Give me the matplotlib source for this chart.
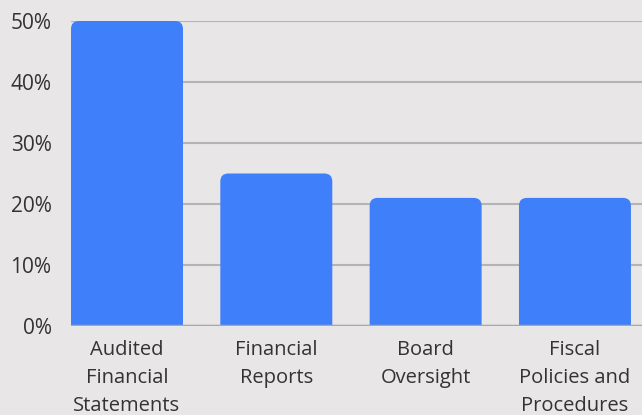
import matplotlib
matplotlib.use("Agg")
import matplotlib.pyplot as plt
from matplotlib.path import Path
from matplotlib.patches import PathPatch

categories = ["Audited\nFinancial\nStatements", "Financial\nReports", "Board\nOversight", "Fiscal\nPolicies and\nProcedures"]
values = [50, 25, 21, 21]

bg = '#e8e6e6'
blue = '#407ffa'

plt.rcParams['font.family'] = ['Open Sans', 'DejaVu Sans']

fig = plt.figure(figsize=(6.42, 4.15), dpi=100, facecolor=bg)
ax = fig.add_axes([71/642, 89/415, 571/642, 305/415], facecolor=bg)

w = 0.75
ax.set_xlim(-0.375, 3.449)
ax.set_ylim(0, 50)

# bars with rounded top corners (radius ~8px)
px_x = 571 / (3.449 + 0.375)
px_y = 305 / 50.0
rx = 8 / px_x
ry = 8 / px_y
for xi, v in enumerate(values):
    x0, x1 = xi - w/2, xi + w/2
    verts = [(x0, 0), (x0, v - ry), (x0, v), (x0 + rx, v), (x1 - rx, v),
             (x1, v), (x1, v - ry), (x1, 0), (x0, 0)]
    codes = [Path.MOVETO, Path.LINETO, Path.CURVE3, Path.CURVE3, Path.LINETO,
             Path.CURVE3, Path.CURVE3, Path.LINETO, Path.CLOSEPOLY]
    ax.add_patch(PathPatch(Path(verts, codes), facecolor=blue, edgecolor='none', zorder=3))

ax.set_yticks([0, 10, 20, 30, 40, 50])
ax.set_yticklabels(['0%', '10%', '20%', '30%', '40%', '50%'])
ax.set_xticks(range(len(values)))
ax.set_xticklabels(categories, linespacing=1.55)
ax.grid(axis='y', color='#b4b4b4', linewidth=1.5, zorder=0)
ax.axhline(0, color='#a8a8a8', linewidth=2.5, zorder=4)
for s in ax.spines.values():
    s.set_visible(False)
ax.tick_params(axis='both', length=0, colors='#333333')
ax.tick_params(axis='y', pad=14, labelsize=15)
ax.tick_params(axis='x', pad=10, labelsize=14.5)

plt.savefig('out.png', dpi=100, facecolor=bg)
